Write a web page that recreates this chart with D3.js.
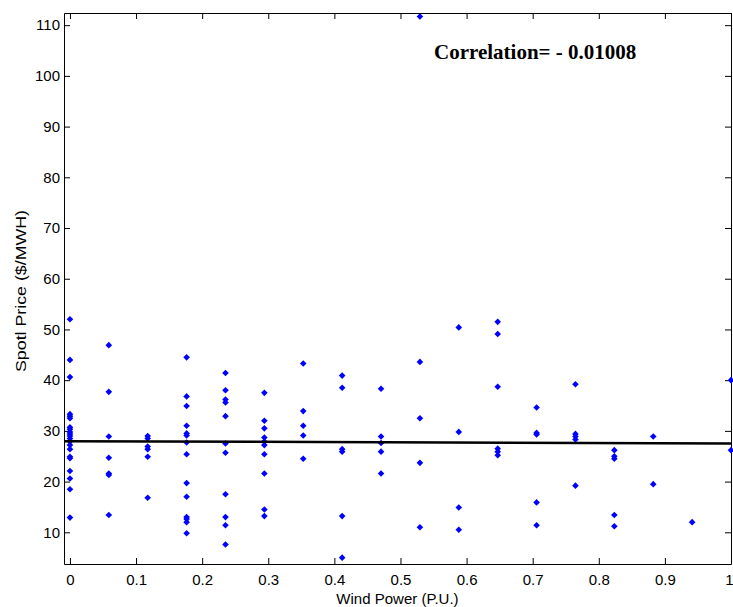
<!DOCTYPE html>
<html>
<head>
<meta charset="utf-8">
<script src="https://cdn.jsdelivr.net/npm/d3@7"></script>
<style>
  html, body { margin: 0; padding: 0; background: #fff; }
  svg { display: block; }
</style>
</head>
<body>
<svg id="chart" width="733" height="607"></svg>
<script>
// Wind power levels (per unit) at which spot prices were observed
const windLevels = [0, 0.0588, 0.1176, 0.1765, 0.2353, 0.2941, 0.3529, 0.4118, 0.4706,
                    0.5294, 0.5882, 0.6471, 0.7059, 0.7647, 0.8235, 0.8824, 0.9412, 1.0];

// Spot prices ($/MWH) observed at each wind level, same order as windLevels
const spotPrices = [
  [52.0, 44.0, 40.6, 33.3, 32.9, 32.5, 30.7, 30.3, 29.8, 29.4, 29.0, 28.5, 27.9, 27.2, 26.4, 24.9, 24.6, 22.1, 20.6, 18.5, 12.9],
  [46.9, 37.7, 28.9, 24.7, 21.6, 21.3, 13.4],
  [29.0, 28.5, 26.9, 26.4, 24.9, 16.8],
  [44.5, 36.8, 34.9, 31.0, 29.5, 29.1, 27.7, 25.4, 19.7, 17.0, 13.0, 12.6, 12.0, 9.8],
  [41.4, 38.0, 36.2, 35.6, 32.9, 27.5, 25.7, 17.5, 13.0, 11.4, 7.6],
  [37.5, 32.0, 30.5, 28.7, 27.9, 27.2, 25.4, 21.6, 14.5, 13.2],
  [43.3, 33.9, 31.0, 29.1, 24.5],
  [40.9, 38.5, 26.4, 25.9, 13.2, 5.0],
  [38.3, 28.9, 27.6, 25.9, 21.6],
  [111.7, 43.6, 32.5, 23.7, 11.0],
  [50.4, 29.8, 14.9, 10.5],
  [51.5, 49.1, 38.7, 26.5, 25.9, 25.2],
  [34.6, 29.6, 29.3, 15.9, 11.4],
  [39.2, 29.4, 28.9, 28.3, 19.2],
  [26.2, 25.0, 24.5, 13.4, 11.2],
  [28.9, 19.5],
  [12.0],
  [40.0, 26.2]
];

// Least-squares fit line endpoints (wind power, price)
const fitX = [-0.009, 1.0];
const fitY = [27.97, 27.52];

const xTicks = [0, 0.1, 0.2, 0.3, 0.4, 0.5, 0.6, 0.7, 0.8, 0.9, 1];
const yTicks = [10, 20, 30, 40, 50, 60, 70, 80, 90, 100, 110];

const xDomain = [-0.009, 1.0];
const yDomain = [3.75, 112.4];

const correlationText = "Correlation= - 0.01008";
const xTitle = "Wind Power (P.U.)";
const yTitle = "Spotl Price ($/MWH)";

// Layout
const plot = { left: 64, right: 731, top: 13, bottom: 564 };
const svg = d3.select("#chart");

const x = d3.scaleLinear().domain(xDomain).range([plot.left, plot.right]);
const y = d3.scaleLinear().domain(yDomain).range([plot.bottom, plot.top]);

const points = [];
windLevels.forEach((w, i) => spotPrices[i].forEach(p => points.push({ w, p })));

// White plotting area
svg.append("rect")
  .attr("x", plot.left).attr("y", plot.top)
  .attr("width", plot.right - plot.left).attr("height", plot.bottom - plot.top)
  .attr("fill", "#fff");

const fontSans = "'Liberation Sans', Arial, sans-serif";
const tickLen = 6;

function styleAxis(g) {
  g.selectAll("path.domain").attr("stroke", "#000").attr("stroke-width", 1);
  g.selectAll(".tick line").attr("stroke", "#000").attr("stroke-width", 1);
  g.selectAll(".tick text")
    .attr("fill", "#000")
    .style("font-family", fontSans)
    .style("font-size", "15px");
}

// Bottom axis with inward ticks
const xAxisG = svg.append("g")
  .attr("transform", `translate(0,${plot.bottom})`)
  .call(d3.axisBottom(x).tickValues(xTicks).tickFormat(d3.format("~g"))
        .tickSizeInner(-tickLen).tickSizeOuter(0).tickPadding(10))
  .call(styleAxis);
// keep the last label inside the page edge
xAxisG.selectAll(".tick text").filter(d => d === 1).attr("dx", -2);

// Top axis (ticks only)
svg.append("g")
  .attr("transform", `translate(0,${plot.top})`)
  .call(d3.axisTop(x).tickValues(xTicks).tickFormat("")
        .tickSizeInner(-tickLen).tickSizeOuter(0))
  .call(styleAxis);

// Left axis with inward ticks
svg.append("g")
  .attr("transform", `translate(${plot.left},0)`)
  .call(d3.axisLeft(y).tickValues(yTicks).tickFormat(d3.format("d"))
        .tickSizeInner(-tickLen).tickSizeOuter(0).tickPadding(4))
  .call(styleAxis);

// Right axis (ticks only)
svg.append("g")
  .attr("transform", `translate(${plot.right},0)`)
  .call(d3.axisRight(y).tickValues(yTicks).tickFormat("")
        .tickSizeInner(-tickLen).tickSizeOuter(0))
  .call(styleAxis);

// Scatter markers
svg.append("g")
  .selectAll("path")
  .data(points)
  .join("path")
  .attr("transform", d => `translate(${x(d.w)},${y(d.p)})`)
  .attr("d", "M0,-3.3L3.3,0L0,3.3L-3.3,0Z")
  .attr("fill", "#0000ff");

// Fit line
svg.append("path")
  .datum(fitX.map((v, i) => [v, fitY[i]]))
  .attr("d", d3.line().x(d => x(d[0])).y(d => y(d[1])))
  .attr("fill", "none")
  .attr("stroke", "#000")
  .attr("stroke-width", 2.5);

// Correlation annotation
svg.append("text")
  .attr("x", 434).attr("y", 59)
  .style("font-family", "'Liberation Serif', 'Times New Roman', serif")
  .style("font-size", "21px")
  .style("font-weight", "bold")
  .attr("fill", "#000")
  .text(correlationText);

// Axis titles
svg.append("text")
  .attr("x", (plot.left + plot.right) / 2).attr("y", 604)
  .attr("text-anchor", "middle")
  .style("font-family", fontSans)
  .style("font-size", "15px")
  .attr("fill", "#000")
  .text(xTitle);

svg.append("text")
  .attr("transform", "translate(25.5,291) rotate(-90)")
  .attr("text-anchor", "middle")
  .style("font-family", fontSans)
  .style("font-size", "15px")
  .attr("textLength", 162)
  .attr("lengthAdjust", "spacingAndGlyphs")
  .attr("fill", "#000")
  .text(yTitle);
</script>
</body>
</html>
